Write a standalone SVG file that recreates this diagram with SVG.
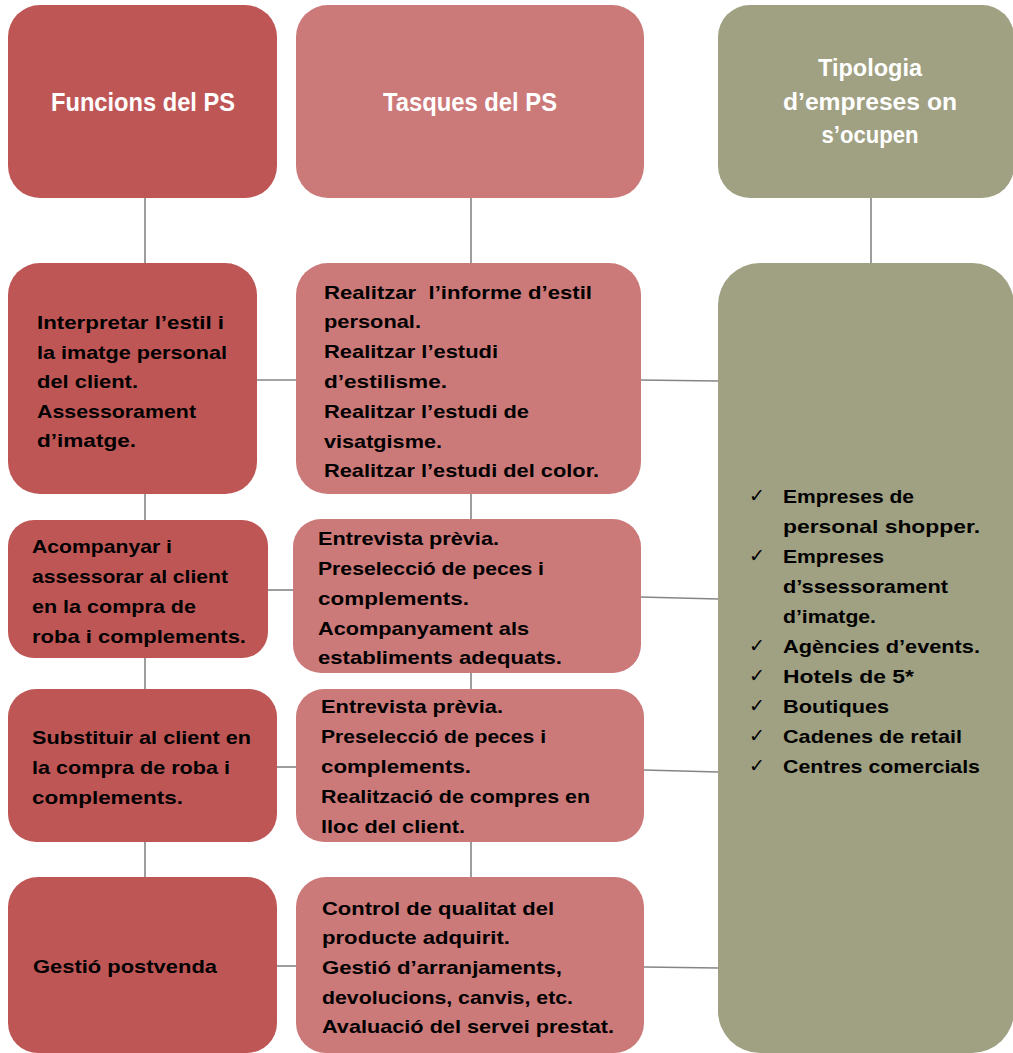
<svg xmlns="http://www.w3.org/2000/svg" width="1013" height="1053" viewBox="0 0 1013 1053">
<style>
.dark{fill:#BF5656}
.light{fill:#CC7979}
.olive{fill:#A0A082}
.hdr{font-family:"Liberation Sans",Arial,sans-serif;font-weight:bold;font-size:25px;fill:#FFFFFF;text-anchor:middle}
.hdr2{font-family:"Liberation Sans",Arial,sans-serif;font-weight:bold;font-size:23px;fill:#FFFFFF;text-anchor:middle}
.t{font-family:"Liberation Sans",Arial,sans-serif;font-weight:bold;font-size:19px;fill:#000000}
.ck{font-family:"DejaVu Sans",sans-serif;font-size:19px;fill:#000000}
.conn line{stroke:#858585;stroke-width:1.6}
</style>
<rect width="1013" height="1053" fill="#FFFFFF"/>
<g class="conn" id="connectors">
<line x1="145" y1="198" x2="145" y2="263"/>
<line x1="145" y1="494" x2="145" y2="520"/>
<line x1="145" y1="658" x2="145" y2="689"/>
<line x1="145" y1="842" x2="145" y2="877"/>
<line x1="471" y1="198" x2="471" y2="263"/>
<line x1="471" y1="494" x2="471" y2="519"/>
<line x1="471" y1="673" x2="471" y2="689"/>
<line x1="471" y1="842" x2="471" y2="877"/>
<line x1="871" y1="198" x2="871" y2="263"/>
<line x1="257" y1="380" x2="296" y2="380"/>
<line x1="640" y1="380" x2="718" y2="381"/>
<line x1="268" y1="590" x2="293" y2="590"/>
<line x1="640" y1="597" x2="718" y2="599"/>
<line x1="277" y1="767" x2="296" y2="767"/>
<line x1="644" y1="770" x2="718" y2="772"/>
<line x1="277" y1="966" x2="296" y2="966"/>
<line x1="644" y1="967" x2="718" y2="968"/>
</g>
<g id="h1">
<rect class="dark" x="8" y="5" width="269" height="193" rx="32"/>
<text class="hdr" x="143" y="111" textLength="184" lengthAdjust="spacingAndGlyphs">Funcions del PS</text>
</g>
<g id="h2">
<rect class="light" x="296" y="5" width="348" height="193" rx="32"/>
<text class="hdr" x="470" y="111" textLength="174" lengthAdjust="spacingAndGlyphs">Tasques del PS</text>
</g>
<g id="h3">
<rect class="olive" x="718" y="5" width="296" height="193" rx="32"/>
<text class="hdr2" x="870" y="76" textLength="104" lengthAdjust="spacingAndGlyphs">Tipologia</text>
<text class="hdr2" x="870" y="110" textLength="174" lengthAdjust="spacingAndGlyphs">d’empreses on</text>
<text class="hdr2" x="870" y="143" textLength="97" lengthAdjust="spacingAndGlyphs">s’ocupen</text>
</g>
<g id="f1">
<rect class="dark" x="8" y="263" width="249" height="231" rx="32"/>
<text class="t" x="37" y="329" textLength="187" lengthAdjust="spacingAndGlyphs">Interpretar l’estil i</text>
<text class="t" x="37" y="358.5" textLength="190" lengthAdjust="spacingAndGlyphs">la imatge personal</text>
<text class="t" x="37" y="388" textLength="101" lengthAdjust="spacingAndGlyphs">del client.</text>
<text class="t" x="37" y="417.5" textLength="159" lengthAdjust="spacingAndGlyphs">Assessorament</text>
<text class="t" x="37" y="447" textLength="99" lengthAdjust="spacingAndGlyphs">d’imatge.</text>
</g>
<g id="f2">
<rect class="dark" x="8" y="520" width="260" height="138" rx="26"/>
<text class="t" x="32" y="553" textLength="140" lengthAdjust="spacingAndGlyphs">Acompanyar i</text>
<text class="t" x="32" y="583" textLength="196" lengthAdjust="spacingAndGlyphs">assessorar al client</text>
<text class="t" x="32" y="613" textLength="164" lengthAdjust="spacingAndGlyphs">en la compra de</text>
<text class="t" x="32" y="643" textLength="214" lengthAdjust="spacingAndGlyphs">roba i complements.</text>
</g>
<g id="f3">
<rect class="dark" x="8" y="689" width="269" height="153" rx="28"/>
<text class="t" x="32" y="744" textLength="219" lengthAdjust="spacingAndGlyphs">Substituir al client en</text>
<text class="t" x="32" y="774" textLength="198" lengthAdjust="spacingAndGlyphs">la compra de roba i</text>
<text class="t" x="32" y="804" textLength="151" lengthAdjust="spacingAndGlyphs">complements.</text>
</g>
<g id="f4">
<rect class="dark" x="8" y="877" width="269" height="176" rx="30"/>
<text class="t" x="33" y="973" textLength="184" lengthAdjust="spacingAndGlyphs">Gestió postvenda</text>
</g>
<g id="t1">
<rect class="light" x="296" y="263" width="345" height="231" rx="32"/>
<text class="t" x="324" y="299" textLength="268" lengthAdjust="spacingAndGlyphs" style="white-space:pre">Realitzar  l’informe d’estil</text>
<text class="t" x="324" y="328" textLength="97" lengthAdjust="spacingAndGlyphs">personal.</text>
<text class="t" x="324" y="358" textLength="174" lengthAdjust="spacingAndGlyphs">Realitzar l’estudi</text>
<text class="t" x="324" y="388" textLength="123" lengthAdjust="spacingAndGlyphs">d’estilisme.</text>
<text class="t" x="324" y="418" textLength="205" lengthAdjust="spacingAndGlyphs">Realitzar l’estudi de</text>
<text class="t" x="324" y="448" textLength="118" lengthAdjust="spacingAndGlyphs">visatgisme.</text>
<text class="t" x="324" y="477" textLength="275" lengthAdjust="spacingAndGlyphs">Realitzar l’estudi del color.</text>
</g>
<g id="t2">
<rect class="light" x="293" y="519" width="348" height="154" rx="28"/>
<text class="t" x="318" y="545" textLength="181" lengthAdjust="spacingAndGlyphs">Entrevista prèvia.</text>
<text class="t" x="318" y="575" textLength="226" lengthAdjust="spacingAndGlyphs">Preselecció de peces i</text>
<text class="t" x="318" y="605" textLength="151" lengthAdjust="spacingAndGlyphs">complements.</text>
<text class="t" x="318" y="635" textLength="211" lengthAdjust="spacingAndGlyphs">Acompanyament als</text>
<text class="t" x="318" y="664" textLength="244" lengthAdjust="spacingAndGlyphs">establiments adequats.</text>
</g>
<g id="t3">
<rect class="light" x="296" y="689" width="348" height="153" rx="28"/>
<text class="t" x="321" y="713" textLength="182" lengthAdjust="spacingAndGlyphs">Entrevista prèvia.</text>
<text class="t" x="321" y="743" textLength="225" lengthAdjust="spacingAndGlyphs">Preselecció de peces i</text>
<text class="t" x="321" y="773" textLength="150" lengthAdjust="spacingAndGlyphs">complements.</text>
<text class="t" x="321" y="803" textLength="269" lengthAdjust="spacingAndGlyphs">Realització de compres en</text>
<text class="t" x="321" y="833" textLength="144" lengthAdjust="spacingAndGlyphs">lloc del client.</text>
</g>
<g id="t4">
<rect class="light" x="296" y="877" width="348" height="176" rx="30"/>
<text class="t" x="322" y="915" textLength="232" lengthAdjust="spacingAndGlyphs">Control de qualitat del</text>
<text class="t" x="322" y="944" textLength="188" lengthAdjust="spacingAndGlyphs">producte adquirit.</text>
<text class="t" x="322" y="974" textLength="240" lengthAdjust="spacingAndGlyphs">Gestió d’arranjaments,</text>
<text class="t" x="322" y="1004" textLength="251" lengthAdjust="spacingAndGlyphs">devolucions, canvis, etc.</text>
<text class="t" x="322" y="1033" textLength="292" lengthAdjust="spacingAndGlyphs">Avaluació del servei prestat.</text>
</g>
<g id="e1">
<rect class="olive" x="718" y="263" width="296" height="790" rx="42"/>
<text class="ck" x="749" y="502">✓</text>
<text class="ck" x="749" y="562">✓</text>
<text class="ck" x="749" y="652">✓</text>
<text class="ck" x="749" y="682">✓</text>
<text class="ck" x="749" y="712">✓</text>
<text class="ck" x="749" y="742">✓</text>
<text class="ck" x="749" y="772">✓</text>
<text class="t" x="783" y="503" textLength="131" lengthAdjust="spacingAndGlyphs">Empreses de</text>
<text class="t" x="783" y="533" textLength="197" lengthAdjust="spacingAndGlyphs">personal shopper.</text>
<text class="t" x="783" y="563" textLength="101" lengthAdjust="spacingAndGlyphs">Empreses</text>
<text class="t" x="783" y="593" textLength="165" lengthAdjust="spacingAndGlyphs">d’ssessorament</text>
<text class="t" x="783" y="623" textLength="93" lengthAdjust="spacingAndGlyphs">d’imatge.</text>
<text class="t" x="783" y="653" textLength="197" lengthAdjust="spacingAndGlyphs">Agències d’events.</text>
<text class="t" x="783" y="683" textLength="131" lengthAdjust="spacingAndGlyphs">Hotels de 5*</text>
<text class="t" x="783" y="713" textLength="106" lengthAdjust="spacingAndGlyphs">Boutiques</text>
<text class="t" x="783" y="743" textLength="179" lengthAdjust="spacingAndGlyphs">Cadenes de retail</text>
<text class="t" x="783" y="773" textLength="197" lengthAdjust="spacingAndGlyphs">Centres comercials</text>
</g>
</svg>
